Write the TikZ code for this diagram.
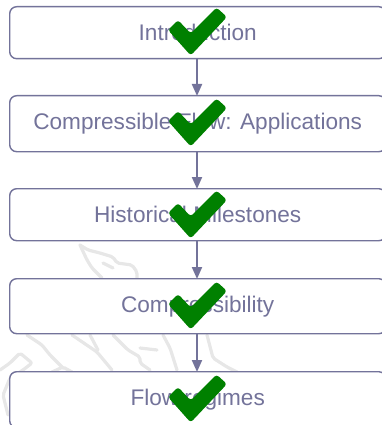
\documentclass[tikz,border=0pt]{standalone}
\usepackage{fontspec}
\setmainfont{Liberation Sans}
\usetikzlibrary{arrows.meta}
\definecolor{ink}{HTML}{73739A}
\definecolor{tick}{HTML}{008000}
\definecolor{wm}{HTML}{E7E7E7}
\tikzset{
  x=1pt,y=-1pt,
  stepbox/.style={draw=ink,line width=1.4pt,rounded corners=7pt,fill=white,minimum width=376pt,inner sep=0pt,text=ink,font=\fontsize{22.6}{26}\selectfont,anchor=north west},
  flow/.style={draw=ink,line width=2pt,-{Triangle[length=12pt,width=10pt]},shorten >=-1pt},
  tickmark/.style={fill=tick,rounded corners=3pt},
  mark outline/.style={draw=wm,line width=3.2pt,line join=round,line cap=round,rounded corners=2pt}
}
\begin{document}
\begin{tikzpicture}
\useasboundingbox (0,0) rectangle (382,425);
\draw[mark outline] (80,245) -- (88,250) -- (100,253) -- (113,257) -- (117,263) -- (132,265) -- (137,272) -- (137,279);
\draw[mark outline] (80,245) -- (87,260) -- (92,268) -- (102,278);
\draw[mark outline] (103,263) -- (113,268);
\draw[mark outline] (27,335) -- (42,345) -- (50,355) -- (63,368);
\draw[mark outline] (72,335) -- (97,352) -- (112,370);
\draw[mark outline] (90,335) -- (98,350);
\draw[mark outline] (113,335) -- (128,350) -- (140,357) -- (140,363) -- (150,370);
\draw[mark outline] (163,335) -- (170,348) -- (177,370);
\draw[mark outline] (140,348) -- (157,350);
\draw[mark outline] (207,335) -- (213,358) -- (227,367) -- (237,372);
\draw[mark outline] (0,370) -- (10,363) -- (20,353) -- (32,363) -- (23,370) -- (10,378) -- (3,395) -- (8,415);
\draw[mark outline] (52,372) -- (63,367) -- (72,372);
\node[stepbox,minimum height=52pt] (intro) at (9,6) {Introduction};
\node[stepbox,minimum height=56pt] (apps) at (9,95) {Compressible Flow: Applications};
\node[stepbox,minimum height=52pt] (hist) at (9,188) {Historical Milestones};
\node[stepbox,minimum height=55pt] (comp) at (9,278) {Compressibility};
\node[stepbox,minimum height=56pt] (regimes) at (9,371) {\raisebox{1.5pt}{Flow regimes}};
\draw[flow] (intro.south -| 197,0) -- (apps.north -| 197,0);
\draw[flow] (apps.south -| 197,0) -- (hist.north -| 197,0);
\draw[flow] (hist.south -| 197,0) -- (comp.north -| 197,0);
\draw[flow] (comp.south -| 197,0) -- (regimes.north -| 197,0);
\foreach \dy in {-1,90,182,273,366}{
  \fill[tickmark,yshift=-\dy pt] (168,31) -- (178,21) -- (190.7,34.5) -- (216.5,8.5) -- (227,18) -- (190.7,56.5) -- cycle;
}
\end{tikzpicture}
\end{document}
